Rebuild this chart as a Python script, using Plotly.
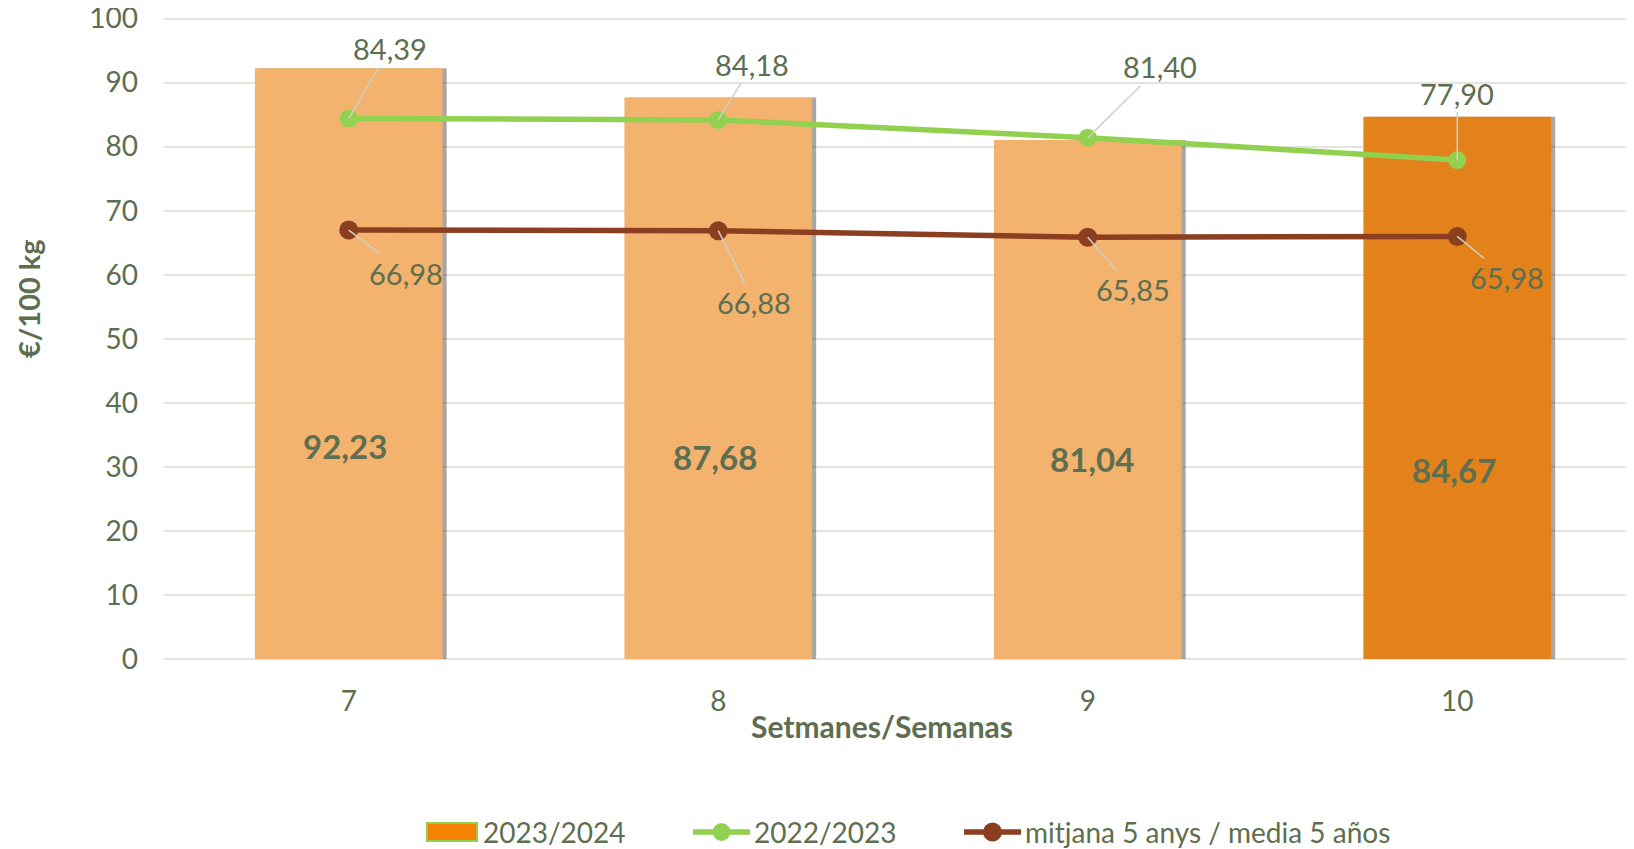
import plotly.graph_objects as go

weeks = ["7", "8", "9", "10"]
season_2324 = [92.23, 87.68, 81.04, 84.67]
season_2223 = [84.39, 84.18, 81.40, 77.90]
avg_5y = [66.98, 66.88, 65.85, 65.98]

bar_colors = ["#F3B36E", "#F3B36E", "#F3B36E", "#E3821A"]
GREEN = "#92D050"
BROWN = "#8B3F20"
TXT = "#5E6E50"
FONT = "Lato"

W, H = 1634, 849
OFF = 8  # page body offset of the figure
ML, MR, MT, MB = 164 - OFF, 0, 8, 190 + OFF

def fmt(v):
    return f"{v:.2f}".replace(".", ",")

def px(xp):
    return (xp - OFF - ML) / (W - ML - MR)

def py(yp):
    return (H - MB - (yp - OFF)) / (H - MT - MB)

xs = list(range(len(weeks)))

fig = go.Figure()

# bar shadow
fig.add_trace(go.Bar(
    x=xs, y=season_2324, width=0.508, offset=-0.254 + 0.011,
    marker=dict(color="rgba(60,60,60,0.45)", line=dict(width=0)),
    showlegend=False, hoverinfo="skip"))
fig.add_trace(go.Bar(
    x=xs, y=season_2324, width=0.508, offset=-0.254,
    marker=dict(color=bar_colors, line=dict(width=0)),
    showlegend=False, name="2023/2024"))

fig.add_trace(go.Scatter(
    x=xs, y=season_2223, mode="lines+markers", name="2022/2023",
    line=dict(color=GREEN, width=5.5),
    marker=dict(color=GREEN, size=18), showlegend=False))
fig.add_trace(go.Scatter(
    x=xs, y=avg_5y, mode="lines+markers", name="mitjana 5 anys / media 5 años",
    line=dict(color=BROWN, width=5.5),
    marker=dict(color=BROWN, size=19), showlegend=False))

ann = []
green_off = [(41, -70), (34, -55), (72, -71), (0, -67)]
brown_off = [(57, 43), (36, 72), (45, 52), (50, 41)]
for i in xs:
    ax, ay = green_off[i]
    ann.append(dict(x=i, y=season_2223[i], text=fmt(season_2223[i]), ax=ax, ay=ay,
                    showarrow=True, arrowhead=0, arrowwidth=1.5, arrowcolor="#CDD0C4",
                    font=dict(size=29, color=TXT, family=FONT)))
    ax, ay = brown_off[i]
    ann.append(dict(x=i, y=avg_5y[i], text=fmt(avg_5y[i]), ax=ax, ay=ay,
                    showarrow=True, arrowhead=0, arrowwidth=1.5, arrowcolor="#CDD0C4",
                    font=dict(size=29, color=TXT, family=FONT)))

bar_label_y = [33.2, 31.6, 31.3, 29.5]
bar_label_dx = [-4, -3, 4, -3]
for i in xs:
    ann.append(dict(x=i, y=bar_label_y[i], text=f"<b>{fmt(season_2324[i])}</b>",
                    showarrow=False, xshift=bar_label_dx[i],
                    font=dict(size=33, color=TXT, family=FONT)))

ann.append(dict(x=px(882), y=py(726), xref="paper", yref="paper", text="<b>Setmanes/Semanas</b>",
                showarrow=False, xanchor="center", yanchor="middle",
                font=dict(size=30, color=TXT, family=FONT)))
ann.append(dict(x=px(28), y=py(299), xref="paper", yref="paper", text="<b>€/100 kg</b>",
                showarrow=False, textangle=-90, xanchor="center", yanchor="middle",
                font=dict(size=29, color=TXT, family=FONT)))

# legend (custom)
shapes = []
LY = 832
shapes.append(dict(type="rect", xref="paper", yref="paper",
                   x0=px(427), x1=px(477), y0=py(841), y1=py(823),
                   fillcolor="#F58200", line=dict(color=GREEN, width=2)))
for (x0, x1, col, r) in [(693, 750, GREEN, 9), (964, 1021, BROWN, 9.5)]:
    shapes.append(dict(type="line", xref="paper", yref="paper",
                       x0=px(x0), x1=px(x1), y0=py(LY), y1=py(LY),
                       line=dict(color=col, width=5.5)))
    cx = (x0 + x1) / 2
    shapes.append(dict(type="circle", xref="paper", yref="paper",
                       x0=px(cx - r), x1=px(cx + r), y0=py(LY + r), y1=py(LY - r),
                       fillcolor=col, line=dict(width=0)))
legend_items = [("2023/2024", 481), ("2022/2023", 752), ("mitjana 5 anys / media 5 años", 1023)]
for txt, x0 in legend_items:
    ann.append(dict(x=px(x0), y=py(LY), xref="paper", yref="paper", text=txt,
                    showarrow=False, xanchor="left", yanchor="middle",
                    font=dict(size=28, color=TXT, family=FONT)))

fig.update_layout(
    width=W, height=H,
    margin=dict(l=ML, r=MR, t=MT, b=MB),
    paper_bgcolor="white", plot_bgcolor="white",
    barmode="overlay",
    font=dict(family=FONT, color=TXT, size=28),
    annotations=ann,
    shapes=shapes,
    showlegend=False,
    xaxis=dict(range=[-0.5, 3.5], tickvals=xs, ticktext=weeks, showgrid=False,
               zeroline=False, showline=False, ticks="", ticklabelstandoff=23,
               automargin=False, tickfont=dict(size=28, color=TXT)),
    yaxis=dict(range=[0, 100.4], tickvals=list(range(0, 101, 10)), showgrid=True,
               gridcolor="#E4E4DD", gridwidth=2, ticklabeloverflow="allow", automargin=False,
               zeroline=True, zerolinecolor="#E4E4DD", zerolinewidth=2, showline=False,
               ticks="", ticklabelstandoff=25, tickfont=dict(size=28, color=TXT)),
)

fig.write_html("out.html")
